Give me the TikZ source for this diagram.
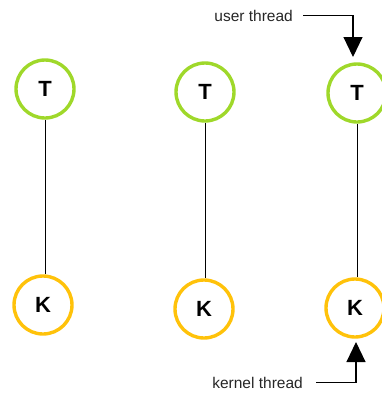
\documentclass[tikz,border=0pt]{standalone}
\usepackage{fontspec}
\setmainfont{Liberation Sans}
\usetikzlibrary{arrows.meta}
\definecolor{ulgreen}{HTML}{9FD82A}
\definecolor{klyellow}{HTML}{FFC20A}
\tikzset{
  thr/.style={circle, line width=3.4pt, minimum size=58pt, inner sep=0pt,
              font=\fontsize{22}{22}\selectfont\bfseries},
  uthr/.style={thr, draw=ulgreen},
  kthr/.style={thr, draw=klyellow},
  link/.style={draw=black, line width=0.9pt},
  lbl/.style={inner sep=0pt, font=\fontsize{15.5}{16}\selectfont, text=black!85},
  callout/.style={draw=black, line width=1.1pt,
                  -{Triangle[width=19pt,length=20pt]}}
}
\begin{document}
\begin{tikzpicture}[x=1pt,y=-1pt]
  \useasboundingbox (0,0) rectangle (382,394);

  % user-level threads
  \node[uthr] (t1) at (45,89)  {T};
  \node[uthr] (t2) at (205,92) {T};
  \node[uthr] (t3) at (357,93) {T};

  % kernel-level threads
  \node[kthr] (k1) at (43,305)  {K};
  \node[kthr] (k2) at (204,309) {K};
  \node[kthr] (k3) at (355,308) {K};

  % one-to-one mapping
  \draw[link] (t1.south) -- (t1.south |- k1.north);
  \draw[link] (t2.south) -- (t2.south |- k2.north);
  \draw[link] (t3.south) -- (t3.south |- k3.north);

  % labels with callout arrows
  \node[lbl, anchor=base east] (ulabel) at (293,21) {user thread};
  \coordinate (utip) at (353,57);
  \draw[callout] ([xshift=10pt]ulabel.east) -| (utip);

  \node[lbl, anchor=base east] (klabel) at (303,388) {kernel thread};
  \coordinate (ktip) at (356,342);
  \draw[callout] ([xshift=13pt]klabel.east) -| (ktip);
\end{tikzpicture}
\end{document}
